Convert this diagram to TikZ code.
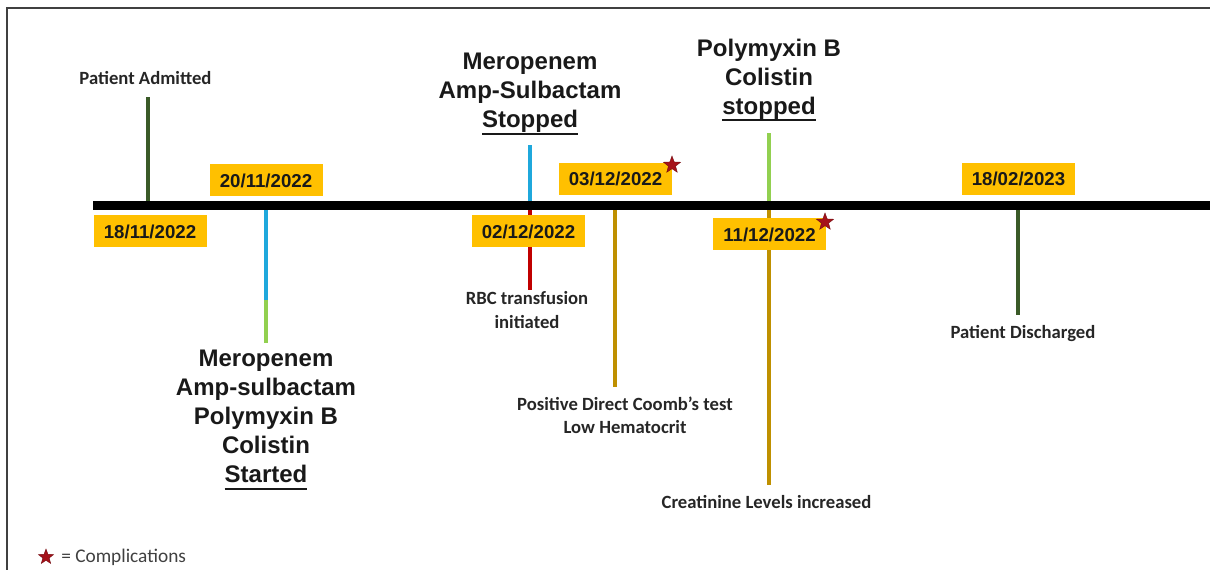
\documentclass[tikz,border=0pt]{standalone}
\usepackage{fontspec}
\setmainfont{Liberation Sans}
\newfontfamily\carl{Carlito}
\usetikzlibrary{shapes.geometric}
\definecolor{dategold}{HTML}{FFC000}
\definecolor{dkgreen}{HTML}{3A5A28}
\definecolor{ltgreen}{HTML}{92D050}
\definecolor{skyblue}{HTML}{1FA8DC}
\definecolor{goldline}{HTML}{BF9000}
\definecolor{rbcred}{HTML}{C00000}
\definecolor{starred}{HTML}{A5121A}
\newcommand\myul[1]{\leavevmode\setbox0\hbox{#1}\rlap{\rule[-4.95pt]{\wd0}{1.5pt}}\box0}
\begin{document}
\begin{tikzpicture}[x=0.75pt,y=-0.75pt,
  datebox/.style={fill=dategold, font=\fontsize{14}{16}\selectfont\bfseries, text=black!90,
    minimum width=84.75pt, minimum height=24pt, inner sep=0pt},
  bigtext/.style={font=\fontsize{18}{21.75}\selectfont\bfseries, align=center, text=black!90, inner sep=0pt},
  smalltext/.style={font=\carl\bfseries\fontsize{14}{17.5}\selectfont, align=center, text=black!85, inner sep=0pt},
  tickline/.style={line width=3pt},
  cstar/.style={star, star points=5, star point ratio=2.4, fill=starred, draw=starred!70!black,
    line width=0.3pt, minimum size=13.5pt, inner sep=0pt}]
\useasboundingbox (0,0) rectangle (1210,570);
% frame
\draw[line width=1.5pt, black!75] (7,570) -- (7,8) -- (1210,8);

% timeline coordinates
\coordinate (tl0) at (93,205.5);
\coordinate (tl1) at (1210,205.5);
\coordinate (t1) at (148,205.5);
\coordinate (t2) at (266,205.5);
\coordinate (t3) at (530,205.5);
\coordinate (t4) at (615,205.5);
\coordinate (t5) at (769,205.5);
\coordinate (t6) at (1018,205.5);

% line ends
\coordinate (e1) at (148,97);
\coordinate (e2a) at (266,300);
\coordinate (e2b) at (266,343);
\coordinate (e3a) at (530,145);
\coordinate (e3b) at (530,290);
\coordinate (e4) at (615,387);
\coordinate (e5a) at (769,133);
\coordinate (e5b) at (769,485);
\coordinate (e6) at (1018,315);

% vertical event lines
\draw[tickline, dkgreen] (t1) -- (e1);
\draw[tickline, skyblue] (t2) -- (e2a);
\draw[tickline, ltgreen] (e2a) -- (e2b);
\draw[tickline, skyblue] (t3) -- (e3a);
\draw[tickline, rbcred] (t3) -- (e3b);
\draw[tickline, goldline] (t4) -- (e4);
\draw[tickline, ltgreen] (t5) -- (e5a);
\draw[tickline, goldline] (t5) -- (e5b);
\draw[tickline, dkgreen] (t6) -- (e6);

% main timeline
\draw[line width=6.5pt, black] (tl0) -- (tl1);

% date boxes
\node[datebox] (d1) at (150,231.5) {18/11/2022};
\node[datebox] (d2) at (266,180.5) {20/11/2022};
\node[datebox] (d3) at (528.5,231.5) {02/12/2022};
\node[datebox] (d4) at (615.5,179) {03/12/2022};
\node[datebox] (d5) at (769.5,234.5) {11/12/2022};
\node[datebox] (d6) at (1018.5,179) {18/02/2023};

% complication stars
\node[cstar] (s1) at (672,165) {};
\node[cstar] (s2) at (825,222) {};

% labels
\node[smalltext, anchor=base] (pa) at (145.5,85) {Patient Admitted};
\node[bigtext] (start) at (266,420) {Meropenem\\Amp-sulbactam\\Polymyxin B\\Colistin\\\myul{Started}};
\node[bigtext] (stop1) at (530,94) {Meropenem\\Amp-Sulbactam\\\myul{Stopped}};
\node[smalltext] (rbc) at (527,310) {RBC transfusion\\initiated};
\node[smalltext] (dct) at (625,415.5) {Positive Direct Coomb’s test\\Low Hematocrit};
\node[bigtext] (stop2) at (769,80) {Polymyxin B\\Colistin\\\myul{stopped}};
\node[smalltext, anchor=base] (cre) at (766.5,508) {Creatinine Levels increased};
\node[smalltext, anchor=base] (pd) at (1023,339) {Patient Discharged};

% legend
\node[cstar, minimum size=12pt] (ls) at (46,557) {};
\node[font=\carl\fontsize{14.5}{16}\selectfont, text=black!75, anchor=west, inner sep=0pt] (lt) at (61,557) {= Complications};
\end{tikzpicture}
\end{document}
